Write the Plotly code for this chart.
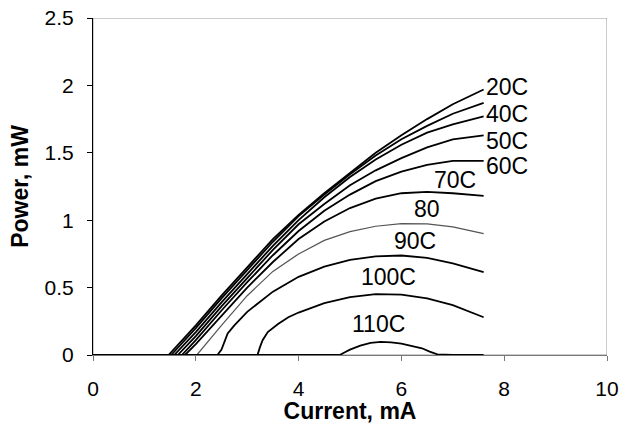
import plotly.graph_objects as go

FONT = "Liberation Sans, Arial, sans-serif"

# ---- data: current (mA) vs optical power (mW) at each temperature ----
i_20 = [0, 1.47, 2.0, 2.5, 3.0, 3.5, 4.0, 4.5, 5.0, 5.5, 6.0, 6.5, 7.0, 7.6]
p_20 = [0, 0, 0.22, 0.44, 0.65, 0.86, 1.04, 1.20, 1.35, 1.50, 1.63, 1.75, 1.86, 1.97]

i_30 = [0, 1.52, 2.0, 2.5, 3.0, 3.5, 4.0, 4.5, 5.0, 5.5, 6.0, 6.5, 7.0, 7.6]
p_30 = [0, 0, 0.20, 0.42, 0.63, 0.84, 1.03, 1.19, 1.34, 1.48, 1.60, 1.70, 1.79, 1.87]

i_40 = [0, 1.58, 2.0, 2.5, 3.0, 3.5, 4.0, 4.5, 5.0, 5.5, 6.0, 6.5, 7.0, 7.6]
p_40 = [0, 0, 0.17, 0.39, 0.60, 0.81, 1.00, 1.17, 1.32, 1.45, 1.56, 1.65, 1.71, 1.77]

i_50 = [0, 1.65, 2.0, 2.5, 3.0, 3.5, 4.0, 4.5, 5.0, 5.5, 6.0, 6.5, 7.0, 7.6]
p_50 = [0, 0, 0.14, 0.36, 0.57, 0.78, 0.97, 1.12, 1.26, 1.37, 1.46, 1.54, 1.60, 1.63]

i_60 = [0, 1.73, 2.0, 2.5, 3.0, 3.5, 4.0, 4.5, 5.0, 5.5, 6.0, 6.5, 7.0, 7.6]
p_60 = [0, 0, 0.11, 0.33, 0.54, 0.74, 0.92, 1.07, 1.19, 1.29, 1.36, 1.41, 1.44, 1.44]

i_70 = [0, 1.79, 2.0, 2.5, 3.0, 3.5, 4.0, 4.5, 5.0, 5.5, 6.0, 6.5, 7.0, 7.6]
p_70 = [0, 0, 0.08, 0.29, 0.50, 0.69, 0.86, 0.99, 1.09, 1.16, 1.20, 1.21, 1.20, 1.18]

i_80 = [0, 2.02, 2.5, 3.0, 3.5, 4.0, 4.5, 5.0, 5.5, 6.0, 6.5, 7.0, 7.6]
p_80 = [0, 0, 0.22, 0.44, 0.62, 0.75, 0.85, 0.915, 0.955, 0.975, 0.972, 0.95, 0.90]

i_90 = [0, 2.42, 2.5, 2.56, 2.62, 2.75, 3.0, 3.5, 4.0, 4.5, 5.0, 5.5, 6.0, 6.5, 7.0, 7.6]
p_90 = [0, 0, 0.04, 0.10, 0.16, 0.22, 0.32, 0.47, 0.58, 0.655, 0.705, 0.732, 0.738, 0.72, 0.68, 0.615]

i_100 = [0, 3.2, 3.25, 3.3, 3.4, 3.6, 3.8, 4.0, 4.5, 5.0, 5.5, 6.0, 6.5, 7.0, 7.6]
p_100 = [0, 0, 0.06, 0.11, 0.17, 0.23, 0.28, 0.315, 0.385, 0.43, 0.452, 0.448, 0.42, 0.37, 0.28]

i_110 = [0, 4.8, 4.9, 5.0, 5.2, 5.4, 5.6, 5.8, 6.0, 6.2, 6.4, 6.55, 6.7, 7.0, 7.6]
p_110 = [0, 0, 0.02, 0.04, 0.07, 0.09, 0.097, 0.094, 0.085, 0.07, 0.05, 0.025, 0.005, 0, 0]

names = ["20C", "30C", "40C", "50C", "60C", "70C", "80", "90C", "100C", "110C"]
currents = [i_20, i_30, i_40, i_50, i_60, i_70, i_80, i_90, i_100, i_110]
powers = [p_20, p_30, p_40, p_50, p_60, p_70, p_80, p_90, p_100, p_110]

x_ticks = [0, 2, 4, 6, 8, 10]
y_ticks = [0, 0.5, 1, 1.5, 2, 2.5]

fig = go.Figure()
for name, cx, py in zip(names, currents, powers):
    thin = name == "80"
    fig.add_trace(go.Scatter(
        x=cx, y=py, mode="lines", name=name,
        line=dict(color="#555555" if thin else "#000000",
                  width=1.2 if thin else 1.8),
        hoverinfo="x+y+name",
    ))

# curve labels
label_pos = {
    "20C": (7.63, 1.985, "left"),
    "40C": (7.63, 1.79, "left"),
    "50C": (7.63, 1.59, "left"),
    "60C": (7.63, 1.40, "left"),
    "70C": (7.04, 1.30, "center"),
    "80": (6.49, 1.083, "center"),
    "90C": (6.26, 0.845, "center"),
    "100C": (5.74, 0.58, "center"),
    "110C": (5.55, 0.233, "center"),
}
for txt, (lx, ly, anc) in label_pos.items():
    fig.add_annotation(x=lx, y=ly, text=txt, showarrow=False,
                       xanchor=anc, yanchor="middle", borderpad=0,
                       font=dict(family=FONT, size=23, color="#000"))

# plot-area border (top / right), light gray like the original
fig.add_shape(type="rect", xref="x", yref="y", x0=0, x1=10, y0=0, y1=2.5,
              line=dict(color="#9a9a9a", width=1), layer="below")

fig.update_layout(
    width=621, height=424,
    margin=dict(l=93, r=14, t=18, b=69, autoexpand=False),
    paper_bgcolor="white", plot_bgcolor="white",
    showlegend=False,
    font=dict(family=FONT, color="#000"),
    xaxis=dict(
        range=[0, 10], tickvals=x_ticks, automargin=False,
        showgrid=False, zeroline=False,
        showline=True, linecolor="#777777", linewidth=1,
        ticks="outside", ticklen=5, tickcolor="#777777",
        tickfont=dict(family=FONT, size=21, color="#000"),
        ticklabelstandoff=10,
        title=dict(text="<b>Current, mA</b>", standoff=3,
                   font=dict(family=FONT, size=23, color="#000")),
    ),
    yaxis=dict(
        range=[0, 2.5], tickvals=y_ticks, automargin=False,
        showgrid=False, zeroline=False,
        showline=True, linecolor="#000000", linewidth=1,
        ticks="outside", ticklen=5, tickcolor="#000000",
        tickfont=dict(family=FONT, size=21, color="#000"),
        ticklabelstandoff=9,
        title=dict(text="<b>Power, mW</b>", standoff=9,
                   font=dict(family=FONT, size=23, color="#000")),
    ),
)

fig.write_html("out.html")
